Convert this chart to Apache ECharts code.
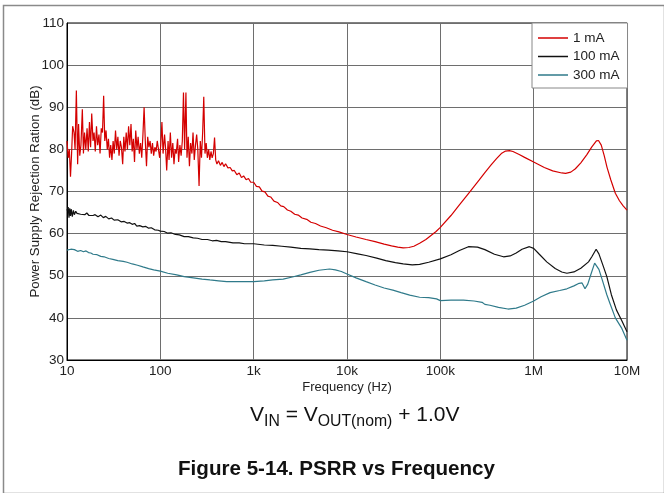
<!DOCTYPE html>
<html>
<head>
<meta charset="utf-8">
<script src="https://cdn.jsdelivr.net/npm/echarts/dist/echarts.min.js"></script>
<style>
html,body{margin:0;padding:0;background:#fff;}
#c{width:664px;height:493px;}
</style>
</head>
<body>
<div id="c"></div>
<script>
// ---------- DATA ----------
const xTickLabels = ['10', '100', '1k', '10k', '100k', '1M', '10M'];
const seriesNames = ['1 mA', '100 mA', '300 mA'];

// 1 mA : frequency (Hz)
const freq1mA = [
  10, 10.3, 10.6, 10.9, 11.2, 11.5, 11.9, 12.2, 12.6, 13,
  13.3, 13.7, 14.1, 14.6, 15, 15.4, 15.9, 16.4, 16.9, 17.4,
  17.9, 18.4, 19, 19.5, 20.1, 20.7, 21.3, 22, 22.6, 23.3,
  24, 24.7, 25.4, 26.2, 27, 27.8, 28.6, 29.4, 30.3, 31.2,
  32.1, 33.1, 34.1, 35.1, 36.1, 37.2, 38.3, 39.5, 40.6, 41.8,
  43.1, 44.4, 45.7, 47.1, 48.5, 49.9, 51.4, 52.9, 54.5, 56.2,
  57.8, 59.6, 61.4, 63.2, 65.1, 67, 69, 71.1, 73.2, 75.4,
  77.7, 80, 82.4, 84.8, 87.4, 90, 92.7, 95.5, 98.3, 101,
  104, 107, 111, 114, 117, 121, 124, 128, 132, 136,
  140, 144, 148, 153, 157, 162, 167, 172, 177, 182,
  188, 193, 199, 205, 211, 218, 224, 231, 238, 245,
  252, 260, 268, 276, 284, 292, 301, 310, 319, 329,
  339, 349, 359, 370, 381, 392, 404,
  420, 440, 460, 480, 500, 530, 560, 590, 620, 660,
  700, 740, 780, 830, 880, 930, 1000, 1070, 1150, 1230,
  1320, 1420, 1520, 1650, 1800, 1950, 2100, 2300, 2500, 2750,
  3000, 3300, 3700, 4100, 4600, 5200, 6000, 7000, 8200, 10000,
  12500, 16000, 20000, 25000, 30000, 35000, 40000, 46000, 52000, 60000,
  70000, 80000, 90000, 100000, 130000, 160000, 200000, 260000, 300000, 350000,
  400000, 450000, 500000, 550000, 600000, 700000, 800000, 1000000, 1300000, 1600000,
  2000000, 2200000, 2500000, 2800000, 3200000, 3700000, 4200000, 4700000, 4950000, 5300000,
  5700000, 6100000, 6700000, 7500000, 8300000, 9100000, 10000000
];
// 1 mA : PSRR (dB)
const psrr1mA = [
  82, 78, 80, 73.5, 79, 85.5, 84, 80, 94, 76.5,
  86, 78.5, 81, 89.5, 79, 84, 80, 85, 79.5, 86.5,
  80.5, 88.5, 82, 84, 79.5, 85.5, 81, 83.5, 79, 85,
  84, 92.7, 82, 84.5, 80, 82.5, 78, 81, 77.5, 82,
  79, 84.5, 80, 83, 78.5, 82, 80.5, 76.5, 83, 79.5,
  84, 80, 85.5, 81, 86, 79.5, 82.5, 77, 84.5, 80,
  83, 79, 81.5, 78, 83.5, 90, 82, 76, 83, 80.5,
  82, 79, 81.5, 78.5, 80.5, 79.5, 82, 80, 78, 81,
  86.5, 79, 83.5, 80, 75, 82, 77.5, 84, 78, 81.5,
  76.5, 80, 79, 82.5, 77, 81, 78.5, 82, 93.5, 80,
  93.5, 78, 83, 76, 81.5, 79, 84, 77.5, 81, 83.5,
  80, 71.3, 82, 78, 84, 92.5, 79, 81.5, 78, 80,
  77.5, 79.5, 78, 79, 82.8, 77.5, 76.5,
  77.3, 76.2, 76.9, 75.9, 76.6, 75.6, 75.7, 74.9, 75, 74,
  74.4, 73.3, 73.7, 72.8, 73.1, 72.2, 72.2, 71.2, 71.1, 70.1,
  69.9, 68.9, 68.7, 67.7, 67.4, 66.6, 66.4, 65.6, 65.3, 64.6,
  64.4, 63.7, 63.4, 62.7, 62.4, 61.8, 61.4, 60.8, 60.4, 59.8,
  59.2, 58.6, 58.1, 57.5, 57.1, 56.8, 56.6, 56.7, 57, 57.7,
  58.6, 59.6, 60.5, 61.5, 64.3, 66.8, 69.5, 72.7, 74.5, 76.3,
  77.8, 79, 79.6, 79.7, 79.5, 78.8, 78.1, 77, 75.7, 74.9,
  74.4, 74.3, 74.6, 75.4, 76.8, 78.7, 80.6, 82, 82.1, 81,
  78.5, 75.8, 72.8, 69.6, 67.8, 66.6, 65.6
];

// 100 mA
const freq100mA = [
  10, 10.3, 10.5, 10.7, 10.9, 11.1, 11.4, 11.7, 12, 12.4,
  12.8, 13.3, 14, 14.7, 15.5, 16.3, 17.2, 18, 19, 20,
  21.5, 23, 24.5, 26, 28, 30, 32, 35, 38, 41,
  44, 47, 50, 53, 56, 60, 65, 70, 75, 80,
  87, 95, 100, 110, 120, 130, 145, 160, 180, 200,
  225, 250, 280, 320, 360, 400, 450, 500, 600, 700,
  800, 1000, 1300, 1600, 2000, 2500, 3200, 4000, 5000, 6300,
  8000, 10000, 13000, 16000, 20800, 26000, 33000, 40000, 50000, 60000,
  75000, 100000, 130000, 160000, 200000, 250000, 300000, 380000, 475000, 560000,
  650000, 750000, 900000, 1000000, 1150000, 1380000, 1700000, 2000000, 2270000, 2700000,
  3200000, 3870000, 4200000, 4670000, 5000000, 5600000, 6080000, 6800000, 7700000, 8800000,
  10000000
];
const psrr100mA = [
  65.5, 66.3, 63.8, 66, 64.2, 65.8, 64, 65.5, 64.5, 65.3,
  64.8, 65.2, 64.6, 65, 64.5, 64.9, 64.3, 64.7, 64.3, 64.5,
  64, 64.4, 63.8, 64.1, 63.5, 63.7, 63.2, 63.3, 62.8, 62.9,
  62.5, 62.6, 62.2, 62.4, 61.8, 61.9, 61.6, 61.7, 61.3, 61.4,
  60.9, 60.8, 60.6, 60.5, 60.1, 60.2, 59.8, 59.7, 59.3, 59.3,
  59, 58.9, 58.6, 58.6, 58.3, 58.4, 58.1, 58.1, 57.8, 57.8,
  57.6, 57.6, 57.3, 57.2, 57, 56.8, 56.5, 56.4, 56.2, 56.1,
  55.9, 55.7, 55.2, 54.8, 54.2, 53.6, 53.1, 52.8, 52.6, 52.7,
  53.2, 54, 55, 56, 56.9, 56.8, 56.2, 55.1, 54.5, 54.7,
  55.4, 56.3, 56.9, 56.5, 55.1, 53.3, 51.7, 50.9, 50.6, 50.9,
  51.8, 53.3, 54.5, 56.3, 55.2, 52.1, 49.8, 45.5, 41.9, 39.3,
  36.7
];

// 300 mA
const freq300mA = [
  10, 10.5, 11, 11.5, 12, 13, 14, 15, 16, 17,
  18, 19, 21, 23, 25, 28, 31, 35, 40, 44,
  50, 57, 65, 75, 85, 100, 120, 150, 180, 226,
  280, 340, 420, 515, 650, 800, 1000, 1300, 1600, 2070,
  2600, 3200, 4000, 5000, 6500, 7500, 8700, 10000, 12500, 16000,
  20000, 25000, 31000, 38000, 47000, 60000, 75000, 91000, 100000, 130000,
  177000, 230000, 280000, 300000, 340000, 420000, 530000, 650000, 800000, 1000000,
  1200000, 1500000, 1900000, 2270000, 2700000, 3070000, 3300000, 3550000, 3800000, 4100000,
  4500000, 4700000, 5000000, 5400000, 6080000, 6600000, 7500000, 8800000, 10000000
];
const psrr300mA = [
  56.1, 55.8, 56.3, 55.9, 56.2, 55.8, 56, 55.7, 55.9, 55.5,
  55.4, 55.1, 55, 54.6, 54.5, 54.1, 53.9, 53.6, 53.4, 53.2,
  52.8, 52.5, 52.1, 51.7, 51.4, 51.1, 50.6, 50.2, 49.8, 49.5,
  49.2, 49, 48.8, 48.6, 48.6, 48.6, 48.6, 48.8, 49, 49.2,
  49.7, 50.2, 50.8, 51.3, 51.6, 51.4, 51, 50.4, 49.5, 48.6,
  47.8, 47.1, 46.6, 46, 45.4, 44.9, 44.8, 44.5, 44.1, 44.2,
  44.2, 44, 43.7, 43.2, 43, 42.5, 42.1, 42.3, 43, 44,
  45, 46, 46.5, 46.9, 47.6, 48.2, 48.3, 46.9, 48, 50.3,
  53, 52.8, 51.5, 49.2, 45.5, 43.3, 40, 37.5, 34.7
];

// ---------- CHART ----------
const FONT = '"Liberation Sans", Arial, sans-serif';
const pairs = (xs, ys) => xs.map((x, i) => [x, ys[i]]);

const chart = echarts.init(document.getElementById('c'), null, {renderer: 'canvas'});
chart.setOption({
  animation: false,
  backgroundColor: '#fff',
  textStyle: {fontFamily: FONT},
  grid: {left: 67, right: 37, top: 23, bottom: 133, show: true, borderColor: '#000', borderWidth: 1, containLabel: false},
  xAxis: {
    type: 'log', logBase: 10, min: 10, max: 10000000, splitNumber: 6,
    name: 'Frequency (Hz)', nameLocation: 'middle', nameGap: 21, nameMoveOverlap: false,
    nameTextStyle: {fontSize: 13, color: '#222', fontFamily: FONT},
    axisLine: {show: true, lineStyle: {color: '#000', width: 1}},
    axisTick: {show: false},
    axisLabel: {
      fontSize: 13.5, color: '#222', fontFamily: FONT, margin: 4,
      formatter: v => xTickLabels[Math.round(Math.log10(v)) - 1] || ''
    },
    splitLine: {show: true, lineStyle: {color: '#6e6e6e', width: 1}},
    minorSplitLine: {show: false}
  },
  yAxis: {
    type: 'value', min: 30, max: 110, interval: 10,
    name: 'Power Supply Rejection Ration (dB)', nameLocation: 'middle', nameGap: 25, nameMoveOverlap: false,
    nameTextStyle: {fontSize: 13.3, color: '#222', fontFamily: FONT},
    axisLine: {show: true, lineStyle: {color: '#000', width: 1}},
    axisTick: {show: false},
    axisLabel: {fontSize: 13.5, color: '#222', fontFamily: FONT, margin: 3},
    splitLine: {show: true, lineStyle: {color: '#6e6e6e', width: 1}}
  },
  legend: {
    orient: 'vertical', left: 532, top: 23,
    backgroundColor: '#fff', borderColor: '#888', borderWidth: 1,
    padding: [8, 8, 6, 6], itemGap: 4.5, itemWidth: 30, itemHeight: 1.5,
    icon: 'rect',
    textStyle: {fontSize: 13.5, color: '#222', fontFamily: FONT, lineHeight: 14},
    data: seriesNames
  },
  series: [
    {name: seriesNames[0], type: 'line', data: pairs(freq1mA, psrr1mA), symbol: 'none', showSymbol: false,
     lineStyle: {color: '#d40000', width: 1.2}, itemStyle: {color: '#d40000'}},
    {name: seriesNames[1], type: 'line', data: pairs(freq100mA, psrr100mA), symbol: 'none', showSymbol: false,
     lineStyle: {color: '#111111', width: 1.2}, itemStyle: {color: '#111111'}},
    {name: seriesNames[2], type: 'line', data: pairs(freq300mA, psrr300mA), symbol: 'none', showSymbol: false,
     lineStyle: {color: '#2f7a8a', width: 1.2}, itemStyle: {color: '#2f7a8a'}}
  ],
  graphic: [
    {type: 'rect', left: 1, top: 3, shape: {width: 661, height: 488}, silent: true,
     style: {fill: 'none', stroke: '#8a8a8a', lineWidth: 1.5}, z: -10},
    {type: 'text', left: 250, top: 405, style: {
      text: '{m|V}{s|IN}{m| = V}{s|OUT(nom)}{m| + 1.0V}',
      rich: {
        m: {fontSize: 21, fontFamily: FONT, fill: '#111', lineHeight: 28, verticalAlign: 'middle'},
        s: {fontSize: 15.8, fontFamily: FONT, fill: '#111', lineHeight: 28, verticalAlign: 'bottom'}
      }
    }},
    {type: 'text', left: 178, top: 459, style: {
      text: 'Figure 5-14. PSRR vs Frequency', fontSize: 20.6, fontWeight: 'bold', fontFamily: FONT, fill: '#111'
    }}
  ]
});
</script>
</body>
</html>
